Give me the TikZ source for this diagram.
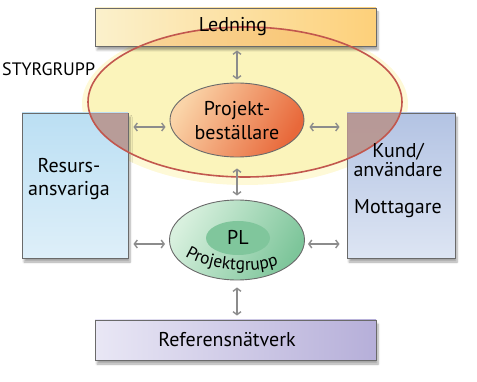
\documentclass[tikz,border=0pt]{standalone}
\usepackage{fontspec}
\setmainfont{PT Sans}
\usetikzlibrary{arrows.meta,shapes.geometric,shadows.blur,decorations.text}
\definecolor{edgegray}{HTML}{6A6A6A}
\definecolor{arrgray}{HTML}{8C8C8C}
\definecolor{ledL}{HTML}{FBF1CC}
\definecolor{ledR}{HTML}{FDD07A}
\definecolor{refL}{HTML}{E9E7F5}
\definecolor{refR}{HTML}{B6AFD9}
\definecolor{resT}{HTML}{BBDFF3}
\definecolor{resB}{HTML}{DEEFF9}
\definecolor{kunT}{HTML}{B3C3E3}
\definecolor{kunB}{HTML}{DDE5F3}
\definecolor{ellFill}{HTML}{FBF4BB}
\definecolor{ellGlow}{HTML}{FCF1A6}
\definecolor{ellEdge}{HTML}{C2574E}
\definecolor{mauve}{HTML}{B8958F}
\definecolor{ledOver}{HTML}{F5A94F}
\definecolor{pbL}{HTML}{FAD4A8}
\definecolor{pbR}{HTML}{E8683A}
\definecolor{plL}{HTML}{D8F0DE}
\definecolor{plR}{HTML}{7DC59A}
\definecolor{plIn}{HTML}{80C69C}
\tikzset{
  box/.style={draw=edgegray, line width=0.9pt, rectangle, inner sep=0pt,
    blur shadow={shadow xshift=2pt, shadow yshift=-4pt, shadow blur steps=6, shadow opacity=35}},
  lbl/.style={font=\fontsize{20}{23}\selectfont, align=center, text=black},
  dbl/.style={draw=arrgray, line width=1.4pt,
    {Straight Barb[length=3pt,width=8pt]}-{Straight Barb[length=3pt,width=8pt]}},
  oval/.style={ellipse, draw=edgegray, line width=0.9pt, inner sep=0pt}
}
\begin{document}
\begin{tikzpicture}[x=1pt,y=-1pt]
\useasboundingbox (0,0) rectangle (477,382);
% steering group ellipse fill
\fill[ellGlow, opacity=0.45] (245,104) ellipse [x radius=163, y radius=81];
\fill[ellFill] (245,102) ellipse [x radius=157, y radius=75];
% boxes
\node[box, minimum width=281pt, minimum height=38pt, left color=ledL, right color=ledR] (led) at (235.5,27) {};
\node[box, minimum width=106pt, minimum height=145pt, top color=resT, bottom color=resB] (res) at (75,185.5) {};
\node[box, minimum width=108pt, minimum height=145pt, top color=kunT, bottom color=kunB] (kun) at (401,185.5) {};
\node[box, minimum width=281pt, minimum height=40pt, left color=refL, right color=refR] (ref) at (235.5,340) {};
% overlaps with ellipse
\begin{scope}
  \clip (245,102) ellipse [x radius=157, y radius=75];
  \fill[mauve, opacity=0.9] (res.north west) rectangle (res.south east);
  \fill[mauve, opacity=0.9] (kun.north west) rectangle (kun.south east);
  \fill[ledOver, opacity=0.35] (led.north west) rectangle (led.south east);
\end{scope}
\draw[ellEdge, line width=1.6pt] (245,102) ellipse [x radius=157, y radius=75];
% texts
\node[lbl] (tled) at (233,27) {Ledning};
\node[lbl] (tref) at (227,340) {Referensnätverk};
\node[lbl] (tres) at (69,179) {Resurs-\\ansvariga};
\node[lbl, font=\fontsize{20}{19}\selectfont] (tkun) at (398,160) {Kund/\\användare};
\node[lbl] (tmot) at (398,209) {Mottagare};
\node[font=\fontsize{18}{18}\selectfont, anchor=west, inner sep=0pt] (styr) at (2,69) {STYRGRUPP};
% inner ovals
\node[oval, minimum width=134pt, minimum height=74pt, left color=pbL, right color=pbR, shading angle=60] (pb) at (237,120) {};
\node[lbl, font=\fontsize{20}{24}\selectfont] (tpb) at (237,121) {Projekt-\\beställare};
\node[oval, minimum width=135pt, minimum height=80pt, left color=plL, right color=plR, shading angle=60] (pg) at (237,240) {};
\node[ellipse, fill=plIn, minimum width=64pt, minimum height=34pt, inner sep=0pt] (pl) at (238,238) {};
\node[lbl] (tpl) at (238,237) {PL};
\path[decorate, decoration={text along path, text align={fit to path},
  text={|\fontsize{17.5}{17.5}\selectfont|Projektgrupp}}]
  (185,256) .. controls (203,268) and (245,275) .. (275,266);
% arrows
\draw[dbl] ([yshift=-4pt]pb.north |- led.south) -- ([yshift=3pt]pb.north);
\draw[dbl] ([yshift=-11pt]pb.south) -- ([yshift=4pt]pg.north);
\draw[dbl] ([yshift=-7pt]pg.south) -- ([yshift=4pt]pg.south |- ref.north);
\draw[dbl] ([xshift=5pt,yshift=-7pt]res.east |- pb.west) -- ([xshift=-4pt,yshift=-7pt]pb.west);
\draw[dbl] ([xshift=5pt,yshift=-7pt]pb.east) -- ([xshift=-7pt,yshift=-7pt]kun.west |- pb.east);
\draw[dbl] ([xshift=5pt,yshift=-4pt]res.east |- pg.west) -- ([xshift=-4pt,yshift=-4pt]pg.west);
\draw[dbl] ([xshift=3pt,yshift=-4pt]pg.east) -- ([xshift=-7pt,yshift=-4pt]kun.west |- pg.east);
\end{tikzpicture}
\end{document}
